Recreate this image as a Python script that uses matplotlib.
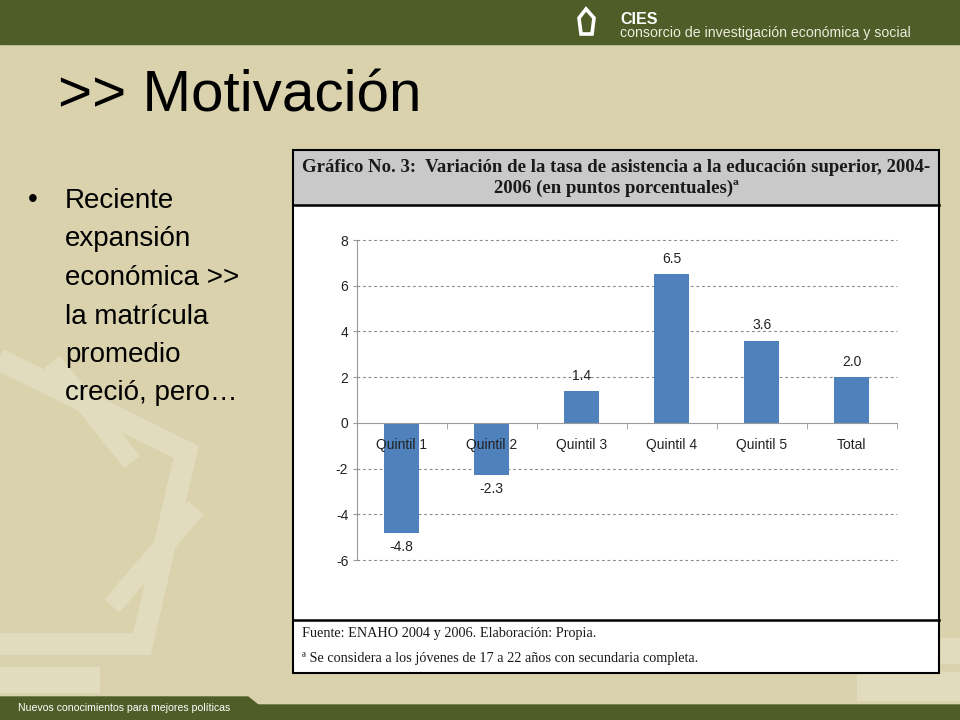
import matplotlib
matplotlib.use("Agg")
import matplotlib.pyplot as plt
from matplotlib.patches import Rectangle, Polygon
from matplotlib.lines import Line2D

# ---- data ----
categories = ["Quintil 1", "Quintil 2", "Quintil 3", "Quintil 4", "Quintil 5", "Total"]
values = [-4.8, -2.3, 1.4, 6.5, 3.6, 2.0]
y_ticks = [-6, -4, -2, 0, 2, 4, 6, 8]

slide_title = ">> Motivación"
bullet_lines = ["Reciente", "expansión", "económica >>", "la matrícula", "promedio", "creció, pero…"]
chart_title_1 = "Gráfico No. 3:  Variación de la tasa de asistencia a la educación superior, 2004-"
chart_title_2 = "2006 (en puntos porcentuales)ª"
footer_1 = "Fuente: ENAHO 2004 y 2006. Elaboración: Propia."
footer_2 = "ª Se considera a los jóvenes de 17 a 22 años con secundaria completa."
header_1 = "CIES"
header_2 = "consorcio de investigación económica y social"
bottom_text = "Nuevos conocimientos para mejores políticas"

BG = "#d9d2ac"
LIGHT = "#e2dcbe"
GREEN = "#4f5e28"
BAR = "#4f81bd"
TXT = "#222222"

fig = plt.figure(figsize=(9.6, 7.2), dpi=100)
fig.patch.set_facecolor(BG)

bg = fig.add_axes([0, 0, 1, 1])
bg.set_xlim(0, 960)
bg.set_ylim(720, 0)
bg.axis("off")
bg.set_zorder(0)

# decorative light stripes (left)
def band(pts, w):
    xs, ys = zip(*pts)
    bg.add_line(Line2D(xs, ys, color=LIGHT, lw=w * 0.72, solid_joinstyle="miter",
                       solid_capstyle="butt", zorder=1))

band([(-40, 340), (186, 452), (142, 644), (-20, 644)], 22)
band([(52, 362), (132, 462)], 20)
band([(196, 508), (112, 606)], 20)
bg.add_patch(Rectangle((0, 667), 99, 25, color=LIGHT, zorder=1))
bg.add_patch(Rectangle((857, 672), 103, 28, color=LIGHT, zorder=1))
bg.add_patch(Rectangle((940, 638), 20, 25, color=LIGHT, zorder=1))

# header bar
bg.add_patch(Rectangle((0, 0), 960, 44, color=GREEN, zorder=2))
bg.add_patch(Polygon([(586, 9), (594, 18), (592, 34), (581, 34), (579, 18)], closed=True,
                     fill=False, edgecolor="white", lw=2.6, zorder=3))
bg.text(620, 24, header_1, color="white", fontsize=11.5, fontweight="bold",
        family="Liberation Sans", va="baseline", ha="left", zorder=3)
bg.text(620, 37, header_2, color="#ecebdc", fontsize=10.2,
        family="Liberation Sans", va="baseline", ha="left", zorder=3)

# bottom bar
bg.add_patch(Polygon([(0, 697), (248, 697), (258, 705), (960, 705), (960, 720), (0, 720)],
                     closed=True, color=GREEN, zorder=2))
bg.text(18, 708, bottom_text, color="white", fontsize=7.6, family="Liberation Sans",
        va="center", ha="left", zorder=3)

# slide title
bg.text(58, 112, slide_title, fontsize=42, family="Liberation Sans", color="black",
        va="baseline", ha="left", zorder=3)

# bullet text
bg.text(33, 200, "•", fontsize=20, family="Liberation Sans", va="center", ha="center", zorder=3)
for i, line in enumerate(bullet_lines):
    bg.text(65, 208 + i * 38.5, line, fontsize=20, family="Liberation Sans",
            va="baseline", ha="left", zorder=3)

# chart box
bg.add_patch(Rectangle((293, 150), 646, 523, facecolor="white", edgecolor="none", zorder=2))
bg.add_patch(Rectangle((293, 150), 646, 55, facecolor="#c9c9c9", edgecolor="none", zorder=2))
bg.add_patch(Rectangle((293, 150), 646, 523, facecolor="none", edgecolor="black", lw=1.5, zorder=4))
bg.add_line(Line2D([293, 939], [205, 205], color="black", lw=1.8, zorder=4))
bg.add_line(Line2D([293, 939], [620, 620], color="black", lw=1.8, zorder=4))
bg.text(616, 172, chart_title_1, fontsize=13.5, fontweight="bold", family="Liberation Serif",
        ha="center", va="baseline", color="#1a1a1a", zorder=5)
bg.text(616, 193, chart_title_2, fontsize=13.5, fontweight="bold", family="Liberation Serif",
        ha="center", va="baseline", color="#1a1a1a", zorder=5)
bg.text(302, 637, footer_1, fontsize=10.3, family="Liberation Serif", ha="left",
        va="baseline", color="#1a1a1a", zorder=5)
bg.text(302, 662, footer_2, fontsize=10.3, family="Liberation Serif", ha="left",
        va="baseline", color="#1a1a1a", zorder=5)

# ---- chart ----
ax = fig.add_axes([356.7 / 960, 1 - 560 / 720, 540 / 960, 320 / 720])
ax.set_zorder(5)
ax.patch.set_alpha(0)
x = list(range(len(categories)))
ax.bar(x, values, width=0.39, color=BAR, zorder=3)
ax.set_xlim(-0.5, len(categories) - 0.5)
ax.set_ylim(-6, 8)
ax.set_yticks(y_ticks)
ax.set_yticklabels([str(t) for t in y_ticks])
for t in y_ticks:
    if t != 0:
        ax.axhline(t, color="#8a8a8a", linestyle=(0, (2.5, 2.5)), lw=0.8, zorder=1, clip_on=False)

for s in ("top", "right"):
    ax.spines[s].set_visible(False)
ax.spines["left"].set_color("#9a9a9a")
ax.spines["bottom"].set_color("#9a9a9a")
ax.spines["bottom"].set_position(("data", 0))
ax.spines["bottom"].set_zorder(4)

ax.set_xticks(x)
ax.set_xticklabels([""] * len(categories))
ax.set_xticks([i + 0.5 for i in range(-1, len(categories))], minor=True)
ax.tick_params(axis="x", which="major", length=0)
ax.tick_params(axis="x", which="minor", length=4, color="#9a9a9a", direction="out")
ax.tick_params(axis="y", length=3, pad=3, color="#9a9a9a", labelsize=10, labelcolor=TXT)
for lab in ax.get_yticklabels():
    lab.set_family("Liberation Sans")

# category labels drawn on top of the bars
for xi, name in zip(x, categories):
    ax.annotate(name, (xi, 0), xytext=(0, -11), textcoords="offset points",
                ha="center", va="top", fontsize=10, family="Liberation Sans",
                color=TXT, zorder=10)

for xi, v in zip(x, values):
    if v >= 0:
        ax.annotate(f"{v:.1f}", (xi, v), xytext=(0, 6), textcoords="offset points",
                    ha="center", va="bottom", fontsize=10, family="Liberation Sans", color=TXT,
                    zorder=10)
    else:
        ax.annotate(f"{v:.1f}", (xi, v), xytext=(0, -5), textcoords="offset points",
                    ha="center", va="top", fontsize=10, family="Liberation Sans", color=TXT,
                    zorder=10)

fig.savefig("out.png", dpi=100, facecolor=fig.get_facecolor())
